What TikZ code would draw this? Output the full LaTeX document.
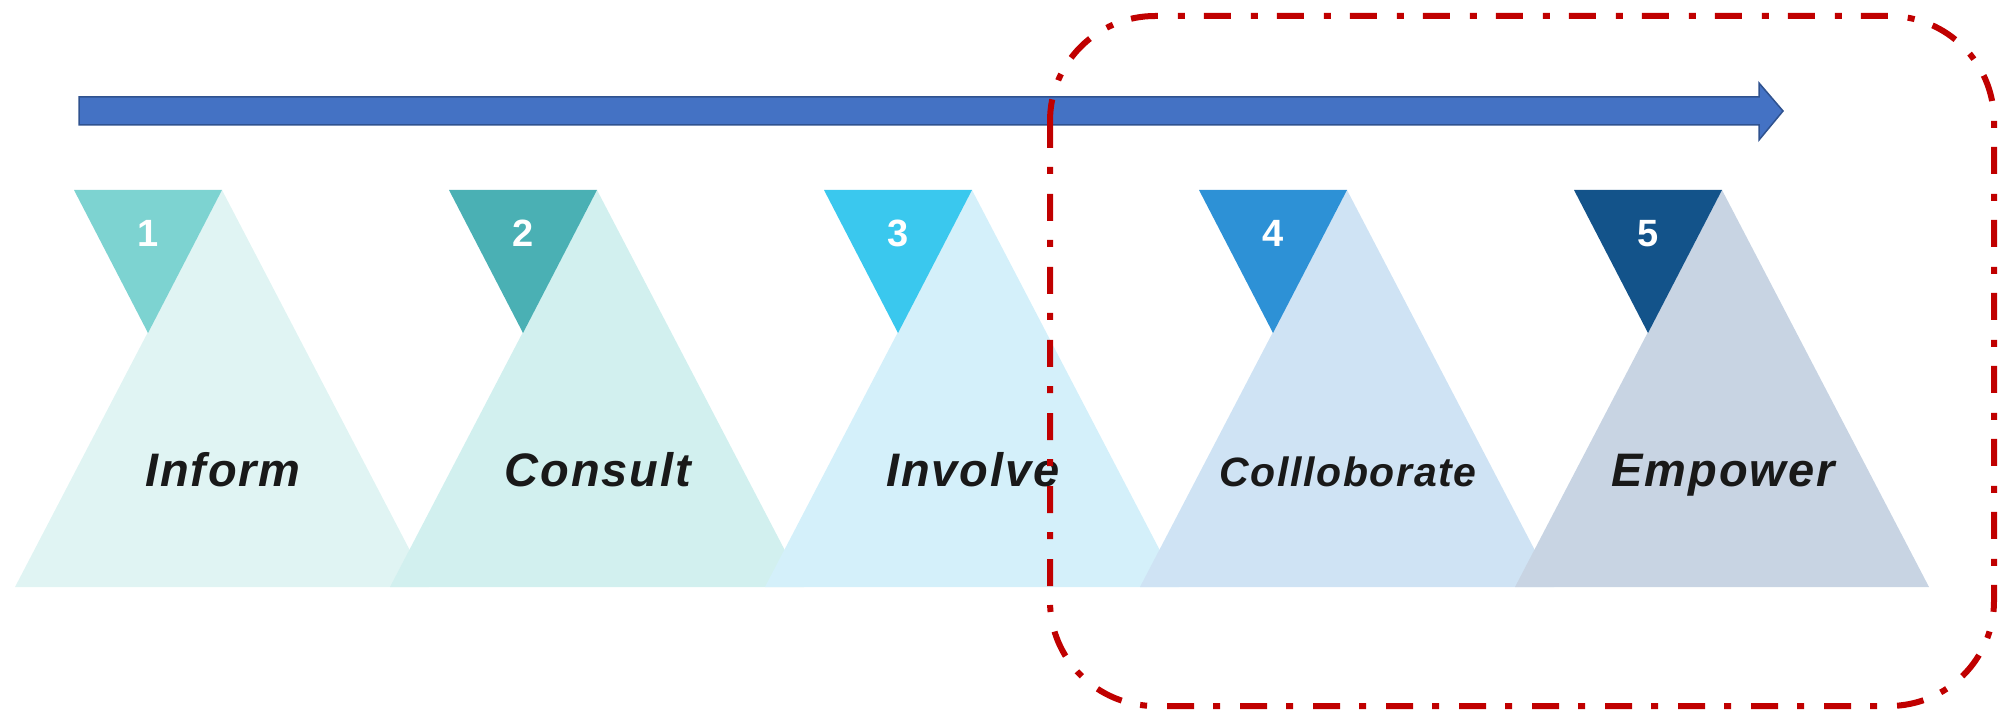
\documentclass[tikz,border=0pt]{standalone}
\usepackage{fontspec}
\setmainfont{Liberation Sans}
\newfontfamily\stagefont[LetterSpace=4]{Liberation Sans}
\definecolor{dark1}{HTML}{7DD3D1}
\definecolor{dark2}{HTML}{4AB0B4}
\definecolor{dark3}{HTML}{3AC8EE}
\definecolor{dark4}{HTML}{2D91D6}
\definecolor{dark5}{HTML}{13538A}
\definecolor{light1}{HTML}{E0F4F3}
\definecolor{light2}{HTML}{D2F0EF}
\definecolor{light3}{HTML}{D4F0FA}
\definecolor{light4}{HTML}{CFE3F4}
\definecolor{light5}{HTML}{C8D4E3}
\definecolor{arrowblue}{HTML}{4472C4}
\definecolor{arrowedge}{HTML}{2F528F}
\definecolor{boxred}{HTML}{C00000}
\tikzstyle{number}=[text=white,font=\fontsize{38}{40}\selectfont\bfseries,inner sep=0pt,anchor=base]
\tikzstyle{stage}=[text=black!90,inner sep=0pt,anchor=base]
\tikzstyle{timeline}=[fill=arrowblue,draw=arrowedge,line width=1.5pt,line join=miter]
\tikzstyle{focusbox}=[draw=boxred,line width=6pt,rounded corners=105pt,dash pattern=on 27pt off 19pt on 7pt off 20pt]

\begin{document}
\begin{tikzpicture}[x=1pt,y=-1pt]
    \useasboundingbox (0,0) rectangle (1998,711);
    \draw[timeline] (79,97) -- (1759,97) -- (1759,83) -- (1783,111) -- (1759,140) -- (1759,125) -- (79,125) -- cycle;

    \foreach \x/\dark/\light/\name/\size [count=\i] in {222/dark1/light1/Inform/47,597/dark2/light2/Consult/47,972/dark3/light3/Involve/47,1347/dark4/light4/Collloborate/41,1722/dark5/light5/Empower/47}
    {
    \fill[\light] (\x-207,587) -- (\x,190) -- (\x+207,587) -- cycle;
    \fill[\dark] (\x-148,190) -- (\x,190) -- (\x-74,333) -- cycle;
    \node[number] (num\i) at (\x-74,247) {\i};
    \node[stage,font=\fontsize{\size}{\size}\stagefont\bfseries\itshape] (stage\i) at (\x+1,486) {\name};
    }

    \draw[focusbox] (1050,16) rectangle (1994,706);
\end{tikzpicture}
\end{document}
